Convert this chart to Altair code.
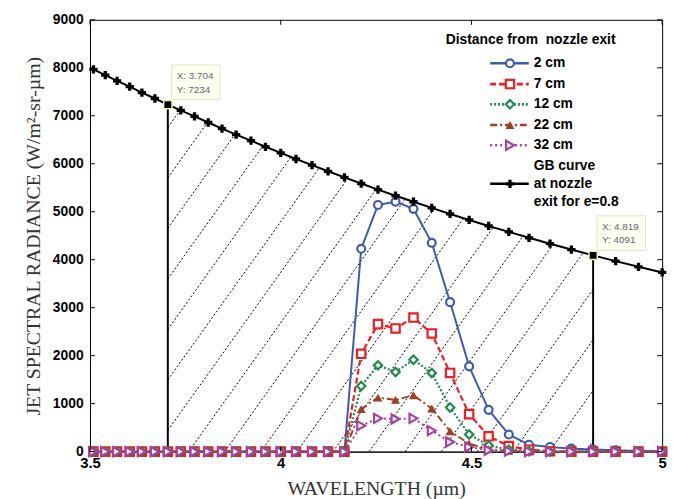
import altair as alt
import pandas as pd
import numpy as np

# ---------------- data ----------------
WAVELENGTH = [3.509, 3.540, 3.571, 3.604, 3.636, 3.670, 3.704, 3.738, 3.774, 3.810,
              3.846, 3.883, 3.922, 3.960, 4.000, 4.040, 4.082, 4.124, 4.167, 4.211,
              4.255, 4.301, 4.348, 4.396, 4.444, 4.494, 4.545, 4.598, 4.651, 4.706,
              4.762, 4.819, 4.878, 4.938, 5.000]

GB_CURVE = [7966, 7848, 7728, 7606, 7483, 7360, 7234, 7111, 6986, 6860,
            6734, 6607, 6481, 6354, 6226, 6099, 5971, 5843, 5715, 5588,
            5461, 5334, 5208, 5081, 4954, 4829, 4704, 4580, 4457, 4334,
            4212, 4091, 3971, 3852, 3735]

ZEROS = [0] * 19
CM_2 = ZEROS + [4228, 5142, 5210, 5060, 4352, 3116, 1777, 871, 356, 144, 97, 62, 45, 27, 15, 8]
CM_7 = ZEROS + [2039, 2657, 2567, 2794, 2464, 1640, 782, 320, 117, 40, 10, 0, 0, 0, 0, 0]
CM_12 = ZEROS + [1366, 1798, 1661, 1915, 1640, 920, 357, 130, 40, 10, 0, 0, 0, 0, 0, 0]
CM_22 = ZEROS + [886, 1126, 1078, 1174, 899, 426, 165, 50, 15, 0, 0, 0, 0, 0, 0, 0]
CM_32 = ZEROS + [542, 694, 680, 694, 439, 200, 96, 30, 10, 0, 0, 0, 0, 0, 0, 0]

SERIES_NAMES = ["2 cm", "7 cm", "12 cm", "22 cm", "32 cm"]
SERIES_VALUES = [CM_2, CM_7, CM_12, CM_22, CM_32]

DATATIP_X = [3.704, 4.819]
DATATIP_Y = [7234, 4091]

X_TICKS = [3.5, 4, 4.5, 5]
Y_TICKS = [0, 1000, 2000, 3000, 4000, 5000, 6000, 7000, 8000, 9000]

LEGEND_TITLE = "Distance from\u00a0 nozzle exit"
GB_LABEL = ["GB curve", "at nozzle", "exit for e=0.8"]
X_TITLE = "WAVELENGTH (\u00b5m)"
Y_TITLE = "JET SPECTRAL RADIANCE (W/m\u00b2-sr-\u00b5m)"

# ---------------- styles ----------------
STYLES = [
    dict(color="#3D5BAA", dash=[1, 0], shape="circle", size=64, filled=False, sw=2.0),
    dict(color="#EE1C25", dash=[6, 3], shape="square", size=72, filled=False, sw=2.2),
    dict(color="#1F8A4C", dash=[2, 2], shape="diamond", size=72, filled=False, sw=2.2),
    dict(color="#A33D20", dash=[7, 3, 2, 3], shape="triangle-up", size=85, filled=True, sw=2.0),
    dict(color="#A541A3", dash=[2, 3], shape="triangle-right", size=85, filled=False, sw=2.0),
]

W, H = 579, 437
XMIN, XMAX, YMIN, YMAX = 3.5, 5.0, 0, 9000
XPX = W / (XMAX - XMIN)     # pixels per micron
YPX = H / (YMAX - YMIN)     # pixels per radiance unit
PLOT_LEFT, PLOT_BOTTOM = 92, 453  # reference pixel frame, for layout helpers


def X(px):
    return XMIN + (px - PLOT_LEFT) / XPX


def Y(py):
    return (PLOT_BOTTOM - py) / YPX


SANS = "Liberation Sans"
SERIF = "Liberation Serif"

xs = alt.Scale(domain=[XMIN, XMAX], nice=False, zero=False)
ys = alt.Scale(domain=[YMIN, YMAX], nice=False)
x_axis = alt.Axis(values=X_TICKS, format="~g", title=X_TITLE, ticks=False,
                  labelFont=SANS, labelFontWeight="bold", labelFontSize=15,
                  labelColor="black", labelPadding=4, titleFont=SERIF,
                  titleFontWeight="normal", titleFontSize=20, titleColor="#333333",
                  titlePadding=8, domainColor="black", grid=False, labelFlush=False)
y_axis = alt.Axis(values=Y_TICKS, format="d", title=Y_TITLE, ticks=False,
                  labelFont=SANS, labelFontWeight="bold", labelFontSize=14,
                  labelColor="black", labelPadding=7, titleFont=SERIF,
                  titleFontWeight="normal", titleFontSize=20, titleColor="#333333",
                  titlePadding=9, domainColor="black", grid=False)


def enc_x(field="x"):
    return alt.X(f"{field}:Q", scale=xs, axis=x_axis)


def enc_y(field="y"):
    return alt.Y(f"{field}:Q", scale=ys, axis=y_axis)


layers = []

# ---------------- hatch lines (computed from GB curve) ----------------
gbx = np.array(WAVELENGTH)
gby = np.array(GB_CURVE, dtype=float)


def gb_at(x):
    return float(np.interp(x, gbx, gby))


XL, XR = DATATIP_X
k = 1.4 * XPX / YPX          # slope in data units
step = 36.5 / XPX            # horizontal spacing
phase = X(267) - gb_at(X(267)) / k
b = phase - step * np.ceil((phase - (XL - YMAX / k)) / step)
hatch = []
while b < XR:
    x0 = max(b, XL)
    y0 = k * (x0 - b)
    if y0 < gb_at(x0):
        f = lambda x: k * (x - b) - gb_at(x)
        if f(XR) <= 0:
            x1 = XR
        else:
            lo, hi = x0, XR
            for _ in range(60):
                mid = (lo + hi) / 2
                if f(mid) > 0:
                    hi = mid
                else:
                    lo = mid
            x1 = lo
        hatch.append(dict(x=x0, y=y0, x2=x1, y2=k * (x1 - b)))
    b += step
layers.append(
    alt.Chart(pd.DataFrame(hatch)).mark_rule(color="black", strokeWidth=1, strokeDash=[2, 2])
    .encode(x=enc_x(), y=enc_y(), x2="x2:Q", y2="y2:Q")
)

# ---------------- vertical lines at datatips ----------------
vdf = pd.DataFrame({"x": DATATIP_X, "y": [0, 0], "y2": DATATIP_Y})
layers.append(alt.Chart(vdf).mark_rule(color="black", strokeWidth=2)
              .encode(x=enc_x(), y=enc_y(), y2="y2:Q"))

# ---------------- series ----------------
for name, vals, st in zip(SERIES_NAMES, SERIES_VALUES, STYLES):
    df = pd.DataFrame({"x": WAVELENGTH, "y": vals})
    base = alt.Chart(df)
    layers.append(base.mark_line(color=st["color"], strokeWidth=st["sw"], strokeDash=st["dash"])
                  .encode(x=enc_x(), y=enc_y()))
    layers.append(base.mark_point(shape=st["shape"], size=st["size"], filled=st["filled"],
                                  color=st["color"], strokeWidth=2.2,
                                  fill=st["color"] if st["filled"] else "white", opacity=1)
                  .encode(x=enc_x(), y=enc_y()))

gbdf = pd.DataFrame({"x": WAVELENGTH, "y": GB_CURVE})
layers.append(alt.Chart(gbdf).mark_line(color="black", strokeWidth=2).encode(x=enc_x(), y=enc_y()))
layers.append(alt.Chart(gbdf).mark_point(shape="cross", size=70, filled=True, color="black", opacity=1)
              .encode(x=enc_x(), y=enc_y()))

# ---------------- datatips ----------------
tip_rect = pd.DataFrame({
    "x": [x + 4 / XPX for x in DATATIP_X], "x2": [x + 53 / XPX for x in DATATIP_X],
    "y": [y + 5 / YPX for y in DATATIP_Y], "y2": [y + 40 / YPX for y in DATATIP_Y],
})
layers.append(alt.Chart(tip_rect).mark_rect(fill="#FFFFEF", stroke="#E3E3C6", strokeWidth=1)
              .encode(x=enc_x(), x2="x2:Q", y=enc_y(), y2="y2:Q"))
tip_text = pd.DataFrame({
    "x": [x + 9 / XPX for x in DATATIP_X] * 2,
    "y": [y + 29 / YPX for y in DATATIP_Y] + [y + 15 / YPX for y in DATATIP_Y],
    "t": [f"X: {x}" for x in DATATIP_X] + [f"Y: {y}" for y in DATATIP_Y],
})
layers.append(alt.Chart(tip_text).mark_text(align="left", baseline="middle", font=SANS,
                                            fontSize=10, color="#5F6680")
              .encode(x=enc_x(), y=enc_y(), text="t:N"))
layers.append(alt.Chart(pd.DataFrame({"x": DATATIP_X, "y": DATATIP_Y}))
              .mark_point(shape="square", size=70, filled=True, fill="black",
                          stroke="#F3EFB0", strokeWidth=1.5, opacity=1)
              .encode(x=enc_x(), y=enc_y()))

# ---------------- inward ticks ----------------
tl = 5
ytk = pd.DataFrame({"x": [XMIN] * len(Y_TICKS) + [XMAX - tl / XPX] * len(Y_TICKS),
                    "x2": [XMIN + tl / XPX] * len(Y_TICKS) + [XMAX] * len(Y_TICKS),
                    "y": Y_TICKS * 2})
xtk = pd.DataFrame({"x": X_TICKS * 2,
                    "y": [YMIN] * len(X_TICKS) + [YMAX - tl / YPX] * len(X_TICKS),
                    "y2": [YMIN + tl / YPX] * len(X_TICKS) + [YMAX] * len(X_TICKS)})
layers.append(alt.Chart(ytk).mark_rule(color="black", strokeWidth=1)
              .encode(x=enc_x(), x2="x2:Q", y=enc_y()))
layers.append(alt.Chart(xtk).mark_rule(color="black", strokeWidth=1)
              .encode(x=enc_x(), y=enc_y(), y2="y2:Q"))

# ---------------- custom legend ----------------
row_py = [60, 81, 101.5, 122.5, 143]
leg_line = pd.DataFrame({"x": [X(497)] * 5, "x2": [X(536)] * 5, "y": [Y(p) for p in row_py]})
for i, st in enumerate(STYLES):
    d = leg_line.iloc[[i]]
    layers.append(alt.Chart(d).mark_rule(color=st["color"], strokeWidth=st["sw"] + 0.5,
                                         strokeDash=st["dash"])
                  .encode(x=enc_x(), x2="x2:Q", y=enc_y()))
    layers.append(alt.Chart(pd.DataFrame({"x": [X(517)], "y": [Y(row_py[i])]}))
                  .mark_point(shape=st["shape"], size=st["size"], filled=st["filled"],
                              color=st["color"], strokeWidth=2.2,
                              fill=st["color"] if st["filled"] else "white", opacity=1)
                  .encode(x=enc_x(), y=enc_y()))
layers.append(alt.Chart(pd.DataFrame({"x": [X(497)], "x2": [X(536)], "y": [Y(182)]}))
              .mark_rule(color="black", strokeWidth=2.5).encode(x=enc_x(), x2="x2:Q", y=enc_y()))
layers.append(alt.Chart(pd.DataFrame({"x": [X(517)], "y": [Y(182)]}))
              .mark_point(shape="cross", size=70, filled=True, color="black", opacity=1)
              .encode(x=enc_x(), y=enc_y()))

leg_text = pd.DataFrame({
    "x": [X(541)] * 8,
    "y": [Y(p) for p in row_py + [164, 182, 200]],
    "t": SERIES_NAMES + GB_LABEL,
})
layers.append(alt.Chart(leg_text).mark_text(align="left", baseline="middle", font=SANS,
                                            fontSize=14, fontWeight="bold", color="black")
              .encode(x=enc_x(), y=enc_y(), text="t:N"))
layers.append(alt.Chart(pd.DataFrame({"x": [X(452)], "y": [Y(36)], "t": [LEGEND_TITLE]}))
              .mark_text(align="left", baseline="middle", font=SANS, fontSize=14,
                         fontWeight="bold", color="black")
              .encode(x=enc_x(), y=enc_y(), text="t:N"))

chart = (
    alt.layer(*layers)
    .properties(width=W, height=H, padding={"left": 15, "top": 2, "right": 4, "bottom": 0},
                background="white")
    .configure_view(stroke="black", strokeWidth=1)
)

chart.save("out.html", embed_options={"renderer": "svg", "actions": False})
